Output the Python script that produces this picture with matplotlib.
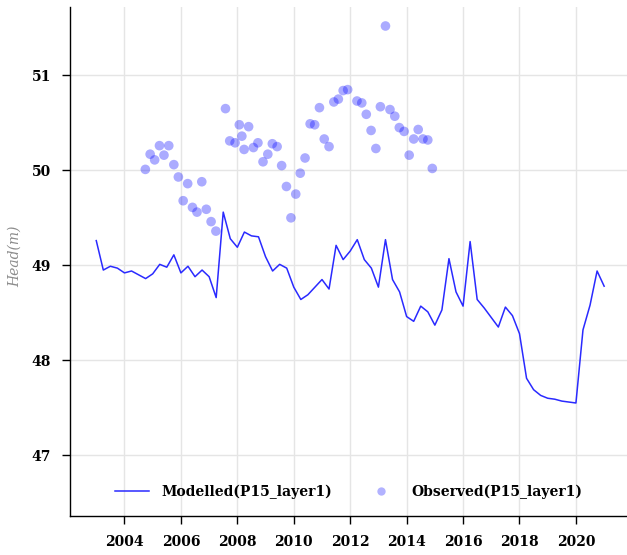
import numpy as np
import matplotlib
matplotlib.use("Agg")
import matplotlib.pyplot as plt
from matplotlib.lines import Line2D

# ---- data ----
model_years = np.arange(2003.0, 2021.01, 0.25)
model_head = [49.26, 48.95, 48.99, 48.97, 48.92, 48.94, 48.90, 48.86, 48.91, 49.01,
              48.98, 49.11, 48.92, 48.99, 48.88, 48.95, 48.88, 48.66, 49.56, 49.28,
              49.19, 49.35, 49.31, 49.30, 49.09, 48.94, 49.01, 48.97, 48.77, 48.64,
              48.69, 48.77, 48.85, 48.75, 49.21, 49.06, 49.15, 49.27, 49.06, 48.97,
              48.77, 49.27, 48.85, 48.72, 48.46, 48.41, 48.57, 48.51, 48.37, 48.53,
              49.07, 48.72, 48.57, 49.25, 48.64, 48.55, 48.45, 48.35, 48.56, 48.47,
              48.28, 47.81, 47.69, 47.63, 47.60, 47.59, 47.57, 47.56, 47.55, 48.32,
              48.58, 48.94, 48.78]

obs_years = [2004.74, 2004.91, 2005.07, 2005.24, 2005.40, 2005.57, 2005.75, 2005.91,
             2006.08, 2006.24, 2006.41, 2006.57, 2006.74, 2006.90, 2007.07, 2007.24,
             2007.58, 2007.73, 2007.92, 2008.07, 2008.16, 2008.24, 2008.40, 2008.57,
             2008.73, 2008.91, 2009.08, 2009.24, 2009.41, 2009.57, 2009.74, 2009.90,
             2010.07, 2010.23, 2010.40, 2010.58, 2010.74, 2010.91, 2011.08, 2011.25,
             2011.42, 2011.58, 2011.75, 2011.91, 2012.24, 2012.41, 2012.57, 2012.74,
             2012.91, 2013.07, 2013.25, 2013.41, 2013.58, 2013.74, 2013.91, 2014.09,
             2014.25, 2014.41, 2014.58, 2014.75, 2014.91]
obs_head = [50.01, 50.17, 50.11, 50.26, 50.16, 50.26, 50.06, 49.93,
            49.68, 49.86, 49.61, 49.56, 49.88, 49.59, 49.46, 49.36,
            50.65, 50.31, 50.29, 50.48, 50.36, 50.22, 50.46, 50.24,
            50.29, 50.09, 50.17, 50.28, 50.25, 50.05, 49.83, 49.50,
            49.75, 49.97, 50.13, 50.49, 50.48, 50.66, 50.33, 50.25,
            50.72, 50.75, 50.84, 50.85, 50.73, 50.71, 50.59, 50.42,
            50.23, 50.67, 51.52, 50.64, 50.57, 50.45, 50.41, 50.16,
            50.33, 50.43, 50.33, 50.32, 50.02]

x_ticks = [2004, 2006, 2008, 2010, 2012, 2014, 2016, 2018, 2020]
y_ticks = [47, 48, 49, 50, 51]
model_label = "Modelled(P15_layer1)"
obs_label = "Observed(P15_layer1)"

# ---- plot ----
plt.rcParams['font.family'] = ['DejaVu Serif']
fig = plt.figure(figsize=(6.27, 5.55), dpi=100)
ax = fig.add_axes([70.3 / 627, 1 - 516 / 555, 1 - 70.3 / 627, (516 - 7) / 555])

ax.plot(model_years, model_head, color='#2a2aff', lw=1.1, zorder=3)
ax.scatter(obs_years, obs_head, s=48, color='#0000ff', alpha=0.33,
           edgecolors='none', zorder=2)

ax.set_xlim(2002.08, 2021.81)
ax.set_ylim(46.36, 51.72)
ax.set_xticks(x_ticks)
ax.set_yticks(y_ticks)
ax.set_xticklabels([str(t) for t in x_ticks])
ax.set_yticklabels([str(t) for t in y_ticks])
ax.grid(True, color='#e5e5e5', lw=1.0, zorder=0)
ax.set_axisbelow(True)

for s in ['top', 'right']:
    ax.spines[s].set_visible(False)
for s in ['left', 'bottom']:
    ax.spines[s].set_color('black')
    ax.spines[s].set_linewidth(1.0)

ax.tick_params(axis='both', direction='out', length=6, width=1.0,
               labelsize=10, pad=8, colors='black')
for lab in ax.get_xticklabels() + ax.get_yticklabels():
    lab.set_fontweight('bold')

ax.set_ylabel('Head(m)', fontsize=10, fontstyle='italic', color='#8c8c8c')
ax.yaxis.set_label_coords(-0.087, 0.51)

handles = [Line2D([], [], color='#2a2aff', lw=1.1),
           Line2D([], [], marker='o', ls='none', markersize=6,
                  markerfacecolor='#0000ff', markeredgecolor='none', alpha=0.3)]
leg = ax.legend(handles, [model_label, obs_label], loc='center',
                bbox_to_anchor=(0.5, 0.047), ncol=2, frameon=False,
                handlelength=2.4, handletextpad=0.95, columnspacing=2.3,
                prop={'weight': 'bold', 'size': 10})

fig.savefig('out.png', dpi=100)
